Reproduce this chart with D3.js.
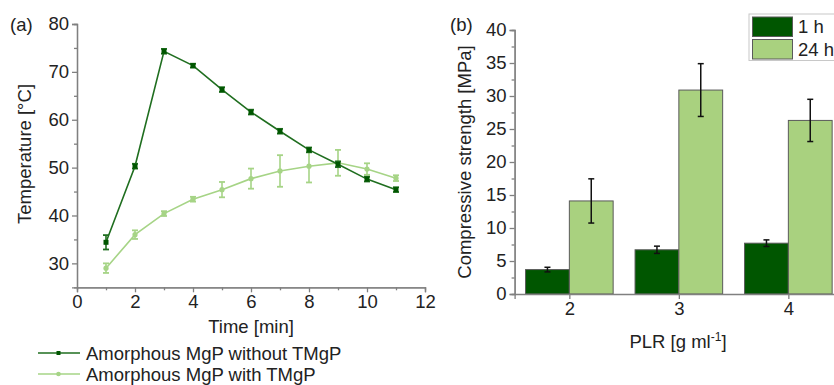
<!DOCTYPE html>
<html lang="en">
<head>
<meta charset="utf-8">
<title>Temperature and compressive strength</title>
<script src="https://d3js.org/d3.v7.min.js"></script>
<style>
  html, body { margin: 0; padding: 0; background: #fff; }
  svg { display: block; font-family: "Liberation Sans", Arial, sans-serif; }
  .tick text { font-size: 18.5px; fill: #222; }
</style>
</head>
<body>
<svg id="chart" width="834" height="385"></svg>
<script>
// (a) temperature over time
const times = [1, 2, 3, 4, 5, 6, 7, 8, 9, 10, 11];
const tempWithout = [34.4, 50.3, 74.3, 71.3, 66.3, 61.6, 57.6, 53.7, 50.7, 47.6, 45.4];
const tempWithoutErr = [1.5, 0.5, 0.5, 0.4, 0.5, 0.5, 0.5, 0.5, 0.6, 0.5, 0.5];
const tempWith = [29.0, 36.0, 40.4, 43.4, 45.4, 47.7, 49.3, 50.3, 51.0, 49.7, 47.8];
const tempWithErr = [1.0, 0.9, 0.5, 0.5, 1.6, 2.1, 3.3, 3.4, 2.7, 1.2, 0.6];
const lineNames = ['Amorphous MgP without TMgP', 'Amorphous MgP with TMgP'];

// (b) compressive strength
const plr = [2, 3, 4];
const strength1h = [3.7, 6.7, 7.7];
const strength1hErr = [0.35, 0.55, 0.5];
const strength24h = [14.1, 30.9, 26.3];
const strength24hErr = [3.35, 4.0, 3.2];
const barNames = ['1 h', '24 h'];

const darkGreen = '#005600';
const lineDark = '#1f6e1f';
const lightGreen = '#a9d17f';
const lineLight = '#a6d486';
const axisColor = '#808080';
const fs = 18.5;

const svg = d3.select('#chart');

function styleAxis(g) {
  g.select('.domain').attr('stroke', axisColor).attr('stroke-width', 1.3);
  g.selectAll('.tick line').attr('stroke', axisColor).attr('stroke-width', 1.3);
}

// ---------- panel (a) ----------
const xA = d3.scaleLinear().domain([0, 12]).range([77, 425]);
const yA = d3.scaleLinear().domain([25, 80]).range([287.3, 24]);

// minor ticks
svg.append('g')
  .attr('transform', 'translate(0,' + yA(25) + ')')
  .call(d3.axisBottom(xA).tickValues(d3.range(1, 12, 2)).tickSize(3).tickFormat(''))
  .call(styleAxis);
svg.append('g')
  .attr('transform', 'translate(' + xA(0) + ',0)')
  .call(d3.axisLeft(yA).tickValues([35, 45, 55, 65, 75]).tickSize(3).tickFormat(''))
  .call(styleAxis);

svg.append('g')
  .attr('transform', 'translate(0,' + yA(25) + ')')
  .call(d3.axisBottom(xA).tickValues(d3.range(0, 13, 2)).tickSize(5).tickPadding(3))
  .call(styleAxis);
svg.append('g')
  .attr('transform', 'translate(' + xA(0) + ',0)')
  .call(d3.axisLeft(yA).tickValues([30, 40, 50, 60, 70, 80]).tickSize(5).tickPadding(3))
  .call(styleAxis);

const seriesA = [
  {vals: tempWithout, errs: tempWithoutErr, color: lineDark, marker: 'square'},
  {vals: tempWith, errs: tempWithErr, color: lineLight, marker: 'circle'}
];

const line = d3.line().x((d, i) => xA(times[i])).y(d => yA(d));

seriesA.slice().reverse().forEach(s => {
  const g = svg.append('g');
  g.append('path')
    .attr('d', line(s.vals))
    .attr('fill', 'none')
    .attr('stroke', s.color)
    .attr('stroke-width', 1.6);
  const eb = g.selectAll('g.err').data(s.vals).join('g');
  eb.append('line')
    .attr('x1', (d, i) => xA(times[i])).attr('x2', (d, i) => xA(times[i]))
    .attr('y1', (d, i) => yA(d + s.errs[i])).attr('y2', (d, i) => yA(d - s.errs[i]))
    .attr('stroke', s.color).attr('stroke-width', 1.6);
  [1, -1].forEach(sign => {
    eb.append('line')
      .attr('x1', (d, i) => xA(times[i]) - 3).attr('x2', (d, i) => xA(times[i]) + 3)
      .attr('y1', (d, i) => yA(d + sign * s.errs[i])).attr('y2', (d, i) => yA(d + sign * s.errs[i]))
      .attr('stroke', s.color).attr('stroke-width', 1.8);
  });
  if (s.marker === 'square') {
    eb.append('rect')
      .attr('x', (d, i) => xA(times[i]) - 2.5).attr('y', d => yA(d) - 2.5)
      .attr('width', 5).attr('height', 5)
      .attr('fill', darkGreen);
  } else {
    eb.append('circle')
      .attr('cx', (d, i) => xA(times[i])).attr('cy', d => yA(d))
      .attr('r', 2.6).attr('fill', lineLight);
  }
});

svg.append('text').attr('x', 10).attr('y', 31).attr('font-size', fs).attr('fill', '#222').text('(a)');
svg.append('text')
  .attr('transform', 'translate(31,154) rotate(-90)')
  .attr('text-anchor', 'middle').attr('font-size', fs).attr('fill', '#222')
  .text('Temperature [°C]');
svg.append('text')
  .attr('x', (xA(0) + xA(12)) / 2).attr('y', 333)
  .attr('text-anchor', 'middle').attr('font-size', fs).attr('fill', '#222')
  .text('Time [min]');

// legend (a)
lineNames.forEach((name, i) => {
  const y = 353 + i * 21;
  const s = seriesA[i];
  svg.append('line').attr('x1', 38).attr('x2', 80).attr('y1', y).attr('y2', y)
    .attr('stroke', s.color).attr('stroke-width', 1.6);
  if (s.marker === 'square') {
    svg.append('rect').attr('x', 56.5).attr('y', y - 2).attr('width', 4).attr('height', 4).attr('fill', darkGreen);
  } else {
    svg.append('circle').attr('cx', 58.5).attr('cy', y).attr('r', 2.3).attr('fill', lineLight);
  }
  svg.append('text').attr('x', 86).attr('y', y + 6.5)
    .attr('font-size', fs).attr('fill', '#222').text(name);
});

// ---------- panel (b) ----------
const xB = d3.scaleLinear().domain([1.5, 4.5]).range([514.6, 843.1]);
const yB = d3.scaleLinear().domain([0, 40]).range([294, 30]);
const barW = 0.4;

svg.append('g')
  .attr('transform', 'translate(' + xB(1.5) + ',0)')
  .call(d3.axisLeft(yB).tickValues(d3.range(2.5, 40, 5)).tickSize(3).tickFormat(''))
  .call(styleAxis);
svg.append('g')
  .attr('transform', 'translate(' + xB(1.5) + ',0)')
  .call(d3.axisLeft(yB).tickValues(d3.range(0, 41, 5)).tickSize(5).tickPadding(3))
  .call(styleAxis);

const seriesB = [
  {vals: strength1h, errs: strength1hErr, color: darkGreen, off: -barW},
  {vals: strength24h, errs: strength24hErr, color: lightGreen, off: 0}
];

seriesB.forEach(s => {
  svg.append('g').selectAll('rect').data(s.vals).join('rect')
    .attr('x', (d, i) => xB(plr[i] + s.off))
    .attr('width', xB(plr[0] + barW) - xB(plr[0]))
    .attr('y', d => yB(d))
    .attr('height', d => yB(0) - yB(d))
    .attr('fill', s.color)
    .attr('stroke', '#5a5a5a').attr('stroke-width', 1);
});

svg.append('g')
  .attr('transform', 'translate(0,' + yB(0) + ')')
  .call(d3.axisBottom(xB).tickValues(plr).tickSize(5).tickPadding(3).tickFormat(d3.format('d')))
  .call(styleAxis);

seriesB.forEach(s => {
  const eb = svg.append('g').selectAll('g').data(s.vals).join('g');
  const cx = i => xB(plr[i] + s.off + barW / 2);
  eb.append('line')
    .attr('x1', (d, i) => cx(i)).attr('x2', (d, i) => cx(i))
    .attr('y1', (d, i) => yB(d + s.errs[i])).attr('y2', (d, i) => yB(d - s.errs[i]))
    .attr('stroke', '#111').attr('stroke-width', 1.5);
  [1, -1].forEach(sign => {
    eb.append('line')
      .attr('x1', (d, i) => cx(i) - 3).attr('x2', (d, i) => cx(i) + 3)
      .attr('y1', (d, i) => yB(d + sign * s.errs[i])).attr('y2', (d, i) => yB(d + sign * s.errs[i]))
      .attr('stroke', '#111').attr('stroke-width', 1.5);
  });
});

svg.append('text').attr('x', 450).attr('y', 31).attr('font-size', fs).attr('fill', '#222').text('(b)');
svg.append('text')
  .attr('transform', 'translate(471,162) rotate(-90)')
  .attr('text-anchor', 'middle').attr('font-size', fs).attr('fill', '#222')
  .text('Compressive strength [MPa]');
const plrLabel = svg.append('text')
  .attr('x', 678).attr('y', 348)
  .attr('text-anchor', 'middle').attr('font-size', fs).attr('fill', '#222');
plrLabel.append('tspan').text('PLR [g ml');
plrLabel.append('tspan').attr('dy', -7).attr('font-size', 12).text('-1');
plrLabel.append('tspan').attr('dy', 7).text(']');

// legend (b)
const legB = svg.append('g').attr('transform', 'translate(749,14)');
legB.append('rect').attr('width', 92).attr('height', 46.5)
  .attr('fill', '#fff').attr('stroke', '#c8c8c8').attr('stroke-width', 1);
barNames.forEach((name, i) => {
  legB.append('rect').attr('x', 3.5).attr('y', 3 + i * 22.5).attr('width', 40).attr('height', 19.5)
    .attr('fill', seriesB[i].color).attr('stroke', '#5a5a5a').attr('stroke-width', 1);
  legB.append('text').attr('x', 49).attr('y', 19 + i * 22.5)
    .attr('font-size', fs).attr('fill', '#222').text(name);
});
</script>
</body>
</html>
